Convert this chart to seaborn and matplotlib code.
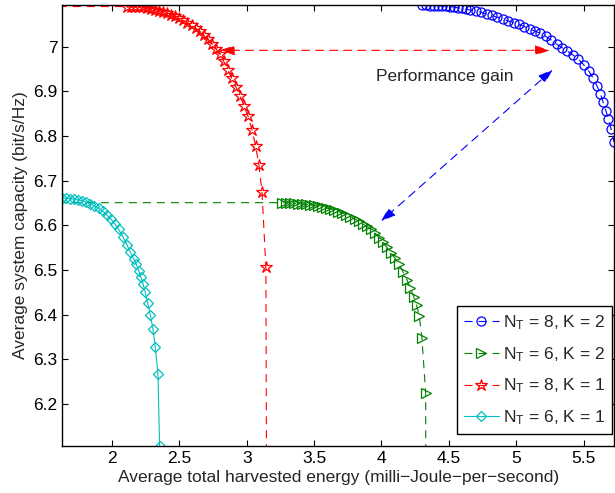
import pandas as pd
import matplotlib
matplotlib.use("Agg")
import matplotlib.pyplot as plt
import seaborn as sns

sns.set_theme(style="ticks", rc={"lines.scale_dashes": False})
plt.rcParams["font.family"] = ["Liberation Sans", "DejaVu Sans"]
plt.rcParams["mathtext.fontset"] = "custom"
plt.rcParams["mathtext.rm"] = "Liberation Sans"
plt.rcParams["mathtext.it"] = "Liberation Sans:italic"

# harvested energy (mJ/s) / capacity (bit/s/Hz)
# first point of three curves lies left of the visible range
nt8_k2_x = [1.50, 4.30, 4.33, 4.36, 4.39, 4.42, 4.45, 4.48, 4.51, 4.54, 4.57, 4.60,
            4.63, 4.66, 4.70, 4.74, 4.78, 4.82, 4.86, 4.90, 4.94, 4.98, 5.02, 5.06,
            5.10, 5.14, 5.18, 5.22, 5.26, 5.30, 5.34, 5.38, 5.42, 5.46, 5.50, 5.54,
            5.57, 5.60, 5.625, 5.645, 5.665, 5.685, 5.705, 5.726]
nt8_k2_y = [7.093, 7.093, 7.093, 7.092, 7.092, 7.092, 7.091, 7.091, 7.090, 7.089, 7.087,
            7.086, 7.084, 7.082, 7.080, 7.077, 7.073, 7.070, 7.066, 7.062, 7.058, 7.054,
            7.050, 7.045, 7.040, 7.035, 7.030, 7.023, 7.015, 7.006, 6.998, 6.990, 6.982,
            6.972, 6.960, 6.945, 6.930, 6.912, 6.895, 6.876, 6.857, 6.838, 6.815, 6.787]

nt6_k2_x = [1.50, 3.26, 3.29, 3.32, 3.35, 3.38, 3.41, 3.44, 3.47, 3.50, 3.53, 3.56,
            3.59, 3.62, 3.65, 3.68, 3.71, 3.74, 3.77, 3.80, 3.83, 3.86, 3.89, 3.92,
            3.95, 3.98, 4.01, 4.04, 4.07, 4.10, 4.13, 4.16, 4.19, 4.215, 4.24, 4.26,
            4.28, 4.30, 4.328, 4.33]
nt6_k2_y = [6.651, 6.651, 6.651, 6.650, 6.650, 6.649, 6.648, 6.647, 6.646, 6.645, 6.643,
            6.641, 6.639, 6.637, 6.634, 6.631, 6.628, 6.624, 6.620, 6.615, 6.610, 6.604,
            6.598, 6.591, 6.583, 6.573, 6.562, 6.551, 6.539, 6.527, 6.513, 6.496, 6.478,
            6.459, 6.440, 6.422, 6.398, 6.349, 6.225, 5.900]

nt8_k1_x = [1.50, 2.11, 2.14, 2.17, 2.20, 2.23, 2.26, 2.29, 2.32, 2.35, 2.38, 2.41,
            2.44, 2.47, 2.50, 2.53, 2.56, 2.59, 2.62, 2.65, 2.68, 2.71, 2.74, 2.77,
            2.80, 2.83, 2.86, 2.89, 2.92, 2.95, 2.98, 3.01, 3.04, 3.065, 3.09, 3.113,
            3.142, 3.148]
nt8_k1_y = [7.090, 7.090, 7.090, 7.089, 7.089, 7.088, 7.087, 7.085, 7.083, 7.081, 7.078,
            7.075, 7.072, 7.068, 7.064, 7.059, 7.054, 7.048, 7.042, 7.035, 7.027, 7.018,
            7.007, 6.996, 6.984, 6.967, 6.948, 6.929, 6.910, 6.890, 6.867, 6.844, 6.813,
            6.778, 6.736, 6.676, 6.507, 5.900]

nt6_k1_x = [1.631, 1.66, 1.69, 1.72, 1.75, 1.78, 1.81, 1.84, 1.87, 1.90, 1.93, 1.96,
            1.99, 2.02, 2.05, 2.08, 2.11, 2.135, 2.16, 2.18, 2.20, 2.215, 2.23, 2.247,
            2.264, 2.284, 2.304, 2.321, 2.341, 2.353]
nt6_k1_y = [6.661, 6.661, 6.660, 6.659, 6.657, 6.655, 6.652, 6.648, 6.644, 6.638, 6.632,
            6.624, 6.615, 6.604, 6.591, 6.575, 6.557, 6.541, 6.526, 6.513, 6.497, 6.484,
            6.470, 6.450, 6.427, 6.400, 6.368, 6.328, 6.268, 6.107]

labels = [r"$\mathrm{N_T}$ = 8, K = 2", r"$\mathrm{N_T}$ = 6, K = 2",
          r"$\mathrm{N_T}$ = 8, K = 1", r"$\mathrm{N_T}$ = 6, K = 1"]
xs = [nt8_k2_x, nt6_k2_x, nt8_k1_x, nt6_k1_x]
ys = [nt8_k2_y, nt6_k2_y, nt8_k1_y, nt6_k1_y]

dash = (0, (5.8, 4.3))
colors = ["blue", (0, 0.5, 0), "red", (0, 0.75, 0.75)]
markers = ["o", ">", "*", "D"]
msizes = [6.5, 6.5, 9, 5.5]
styles = [dash, dash, dash, "-"]
fs = 12.5

fig, ax = plt.subplots(figsize=(6.15, 4.93), dpi=100)
fig.subplots_adjust(left=0.1013, right=0.9984, top=0.9899, bottom=0.0959)

for x, y, lab, c, m, ms, ls in zip(xs, ys, labels, colors, markers, msizes, styles):
    df = pd.DataFrame({"x": x, "y": y})
    sns.lineplot(data=df, x="x", y="y", ax=ax, sort=False, estimator=None,
                 color=c, marker=m, markersize=ms, markerfacecolor="none",
                 markeredgecolor=c, markeredgewidth=0.9, linewidth=0.8,
                 linestyle=ls, label=lab)

# performance gain arrows
arrow = "<|-|>,head_length=0.9,head_width=0.3"
ax.annotate("", xy=(2.80, 6.992), xytext=(5.25, 6.992),
            arrowprops=dict(arrowstyle=arrow, color="red", lw=0.8, linestyle=dash,
                            shrinkA=0, shrinkB=0, mutation_scale=10))
ax.annotate("", xy=(3.995, 6.609), xytext=(5.272, 6.949),
            arrowprops=dict(arrowstyle=arrow, color="blue", lw=0.8, linestyle=dash,
                            shrinkA=0, shrinkB=0, mutation_scale=10))
ax.text(3.96, 6.933, "Performance gain", fontsize=fs, ha="left", va="center")

ax.set_xlim(1.631, 5.726)
ax.set_ylim(6.107, 7.0935)
ax.set_xticks([2, 2.5, 3, 3.5, 4, 4.5, 5, 5.5])
ax.set_xticklabels(["2", "2.5", "3", "3.5", "4", "4.5", "5", "5.5"])
ax.set_yticks([6.2, 6.3, 6.4, 6.5, 6.6, 6.7, 6.8, 6.9, 7])
ax.set_yticklabels(["6.2", "6.3", "6.4", "6.5", "6.6", "6.7", "6.8", "6.9", "7"])
ax.tick_params(direction="in", top=True, right=True, length=4, width=0.8,
               labelsize=fs, colors="black")
ax.tick_params(axis="x", pad=4)
for s in ax.spines.values():
    s.set_linewidth(1.0)
    s.set_color("black")

ax.set_xlabel("Average total harvested energy (milli\u2212Joule\u2212per\u2212second)",
              fontsize=fs, labelpad=2.5)
ax.set_ylabel("Average system capacity (bit/s/Hz)", fontsize=fs, labelpad=4)

leg = ax.legend(loc="lower right", bbox_to_anchor=(0.9964, 0.0265), fontsize=fs,
                frameon=True, fancybox=False, framealpha=1, edgecolor="black",
                handlelength=2.0, handletextpad=0.25, labelspacing=0.75,
                borderpad=0.4, borderaxespad=0, numpoints=1)
leg.get_frame().set_linewidth(1.0)

fig.savefig("out.png", dpi=100)
plt.close()
